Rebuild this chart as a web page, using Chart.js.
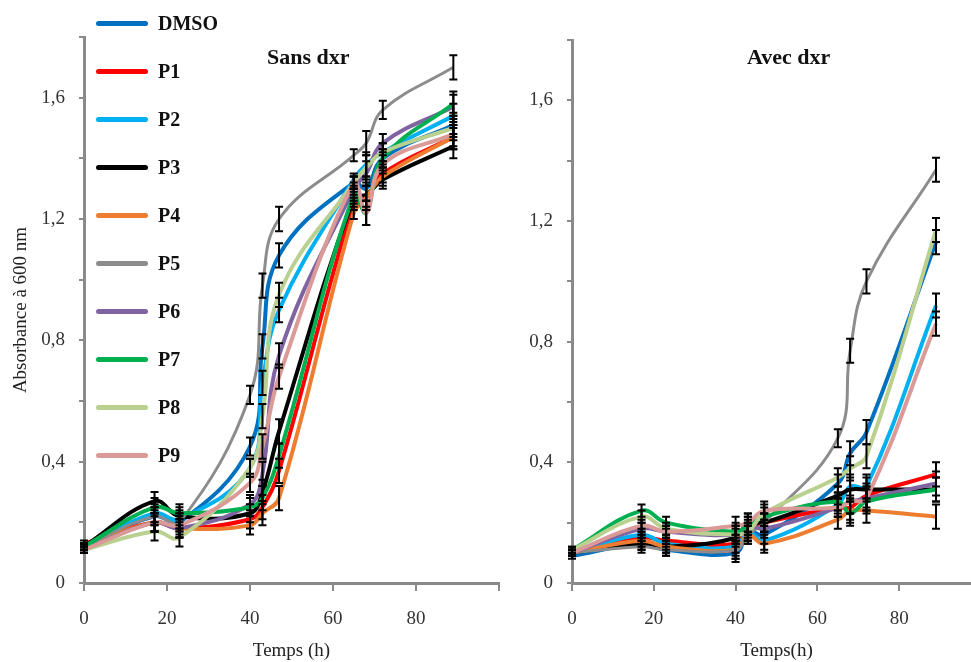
<!DOCTYPE html>
<html>
<head>
<meta charset="utf-8">
<script src="https://cdn.jsdelivr.net/npm/chart.js@4.4.1/dist/chart.umd.min.js"></script>
<style>
  html, body { margin: 0; padding: 0; background: #fff; overflow: hidden; }
  body { width: 971px; height: 662px; position: relative; font-family: "Liberation Serif", serif; }
  #left { position: absolute; left: 0; top: 0; }
  #right { position: absolute; left: 510px; top: 0; }
  .panel-title { position: absolute; font-weight: bold; font-size: 22px; color: #111; }
  #legend { position: absolute; left: 96px; top: -1px; }
  .item { display: flex; align-items: center; height: 48px; }
  .swatch { width: 52px; height: 5px; border-radius: 3px; margin-right: 10px; }
  .item span { font-weight: bold; font-size: 20px; color: #111; }
</style>
</head>
<body>
<canvas id="left" width="510" height="662"></canvas>
<canvas id="right" width="480" height="662"></canvas>
<div class="panel-title" style="left:267px; top:44px;">Sans dxr</div>
<div class="panel-title" style="left:747px; top:44px;">Avec dxr</div>
<div id="legend"></div>
<script>
// sampling times (h)
const times = [0, 17, 23, 40, 43, 47, 65, 68, 72, 89];
const seriesNames = ['DMSO', 'P1', 'P2', 'P3', 'P4', 'P5', 'P6', 'P7', 'P8', 'P9'];

// Sans dxr
const sansDMSO = [0.12, 0.22, 0.20, 0.45, 0.78, 1.08, 1.32, 1.30, 1.40, 1.51];
const sansP1 = [0.13, 0.20, 0.18, 0.21, 0.25, 0.37, 1.25, 1.27, 1.35, 1.47];
const sansP2 = [0.12, 0.23, 0.21, 0.38, 0.66, 0.90, 1.33, 1.38, 1.42, 1.54];
const sansP3 = [0.12, 0.27, 0.22, 0.23, 0.30, 0.50, 1.27, 1.28, 1.33, 1.44];
const sansP4 = [0.12, 0.20, 0.18, 0.19, 0.23, 0.28, 1.22, 1.27, 1.34, 1.47];
const sansP5 = [0.12, 0.22, 0.20, 0.62, 0.98, 1.20, 1.41, 1.45, 1.56, 1.70];
const sansP6 = [0.11, 0.20, 0.18, 0.26, 0.36, 0.75, 1.30, 1.35, 1.45, 1.57];
const sansP7 = [0.12, 0.25, 0.23, 0.25, 0.28, 0.42, 1.28, 1.22, 1.40, 1.58];
const sansP8 = [0.11, 0.17, 0.15, 0.38, 0.55, 0.95, 1.32, 1.37, 1.42, 1.50];
const sansP9 = [0.11, 0.20, 0.19, 0.33, 0.45, 0.68, 1.32, 1.22, 1.38, 1.48];
const errSans = [0.01, 0.03, 0.03, 0.03, 0.04, 0.04, 0.02, 0.04, 0.03, 0.04];

// Avec dxr
const avecDMSO = [0.09, 0.13, 0.11, 0.10, 0.17, 0.16, 0.33, 0.43, 0.50, 1.13];
const avecP1 = [0.10, 0.15, 0.14, 0.13, 0.18, 0.20, 0.25, 0.25, 0.29, 0.36];
const avecP2 = [0.10, 0.16, 0.13, 0.12, 0.17, 0.14, 0.26, 0.32, 0.32, 0.92];
const avecP3 = [0.10, 0.13, 0.12, 0.15, 0.20, 0.20, 0.29, 0.31, 0.31, 0.31];
const avecP4 = [0.10, 0.14, 0.12, 0.11, 0.16, 0.13, 0.21, 0.24, 0.24, 0.22];
const avecP5 = [0.10, 0.12, 0.11, 0.11, 0.16, 0.20, 0.48, 0.77, 1.00, 1.37];
const avecP6 = [0.10, 0.18, 0.17, 0.16, 0.19, 0.18, 0.25, 0.27, 0.28, 0.33];
const avecP7 = [0.11, 0.24, 0.20, 0.17, 0.19, 0.22, 0.27, 0.23, 0.27, 0.31];
const avecP8 = [0.11, 0.22, 0.18, 0.16, 0.17, 0.23, 0.35, 0.38, 0.42, 1.17];
const avecP9 = [0.10, 0.19, 0.17, 0.19, 0.20, 0.24, 0.25, 0.27, 0.28, 0.86];
const errAvec = [0.01, 0.02, 0.02, 0.03, 0.03, 0.03, 0.03, 0.04, 0.04, 0.04];

const colors = ['#0070C0', '#FF0000', '#00B0F0', '#000000', '#ED7D31',
                '#8C8C8C', '#8064A2', '#00B050', '#B9D08F', '#DA9A98'];

const axisGray = '#8a8a8a';
const serif = '"Liberation Serif", serif';
const tickFont = { family: serif, size: 19 };
const titleFont = { family: serif, size: 19 };

// black error bars with caps, drawn through the chart scales
const errorBars = {
  id: 'errorBars',
  afterDatasetsDraw(chart) {
    const { ctx, scales: { x, y } } = chart;
    const err = chart.options.plugins.errorBars.err;
    ctx.save();
    ctx.strokeStyle = '#000';
    ctx.lineWidth = 2;
    chart.data.datasets.forEach(ds => {
      ds.data.forEach((p, i) => {
        const px = x.getPixelForValue(p.x);
        const top = y.getPixelForValue(p.y + err[i]);
        const bot = y.getPixelForValue(p.y - err[i]);
        ctx.beginPath();
        ctx.moveTo(px, top); ctx.lineTo(px, bot);
        ctx.moveTo(px - 4, top); ctx.lineTo(px + 4, top);
        ctx.moveTo(px - 4, bot); ctx.lineTo(px + 4, bot);
        ctx.stroke();
      });
    });
    ctx.restore();
  }
};

function makeChart(id, seriesList, err, yWidth, yTitle, xTitle, padTop, padRight) {
  const datasets = seriesList.map((vals, i) => ({
    label: seriesNames[i],
    data: vals.map((v, j) => ({ x: times[j], y: v })),
    borderColor: colors[i],
    borderWidth: i === 5 ? 3 : 4,
    pointRadius: 0,
    tension: 0.4,
    order: 10 - i
  }));
  return new Chart(document.getElementById(id), {
    type: 'line',
    data: { datasets },
    plugins: [errorBars],
    options: {
      responsive: false,
      animation: false,
      layout: { padding: { top: padTop, right: padRight, bottom: 0, left: 0 } },
      plugins: {
        legend: { display: false },
        tooltip: { enabled: false },
        errorBars: { err }
      },
      scales: {
        x: {
          type: 'linear', min: 0, max: 100,
          afterFit: s => { s.height = 79; s.paddingRight = 0; s.paddingLeft = 0; },
          border: { color: axisGray, width: 3 },
          grid: { drawOnChartArea: false, tickLength: 8, color: axisGray, lineWidth: 2 },
          ticks: {
            stepSize: 20, padding: 17, color: '#333', font: tickFont, maxRotation: 0,
            callback: v => (v === 100 ? '' : v)
          },
          title: {
            display: true, text: xTitle, color: '#222', font: titleFont,
            padding: { top: 0, bottom: 0 }
          }
        },
        y: {
          min: 0, max: 1.8,
          afterFit: s => { s.width = yWidth; },
          border: { color: axisGray, width: 3 },
          grid: { drawOnChartArea: false, tickLength: 5, color: axisGray, lineWidth: 2 },
          ticks: {
            stepSize: 0.2, padding: 14, color: '#333', font: tickFont,
            callback: v => {
              const r = v / 0.4;
              if (Math.abs(r - Math.round(r)) > 1e-6 || v > 1.7) return '';
              return v === 0 ? '0' : v.toFixed(1).replace('.', ',');
            }
          },
          title: {
            display: yTitle !== '', text: yTitle, color: '#222', font: titleFont,
            padding: { top: 10, bottom: 0 }
          }
        }
      }
    }
  });
}

makeChart('left',
  [sansDMSO, sansP1, sansP2, sansP3, sansP4, sansP5, sansP6, sansP7, sansP8, sansP9],
  errSans, 84, 'Absorbance à 600 nm', 'Temps (h)', 37, 11);
makeChart('right',
  [avecDMSO, avecP1, avecP2, avecP3, avecP4, avecP5, avecP6, avecP7, avecP8, avecP9],
  errAvec, 62, '', 'Temps(h)', 40, 9);

// legend on the left panel
const legend = document.getElementById('legend');
seriesNames.forEach((name, i) => {
  const row = document.createElement('div');
  row.className = 'item';
  row.innerHTML = '<div class="swatch" style="background:' + colors[i] + '"></div><span>' + name + '</span>';
  legend.appendChild(row);
});
</script>
</body>
</html>
